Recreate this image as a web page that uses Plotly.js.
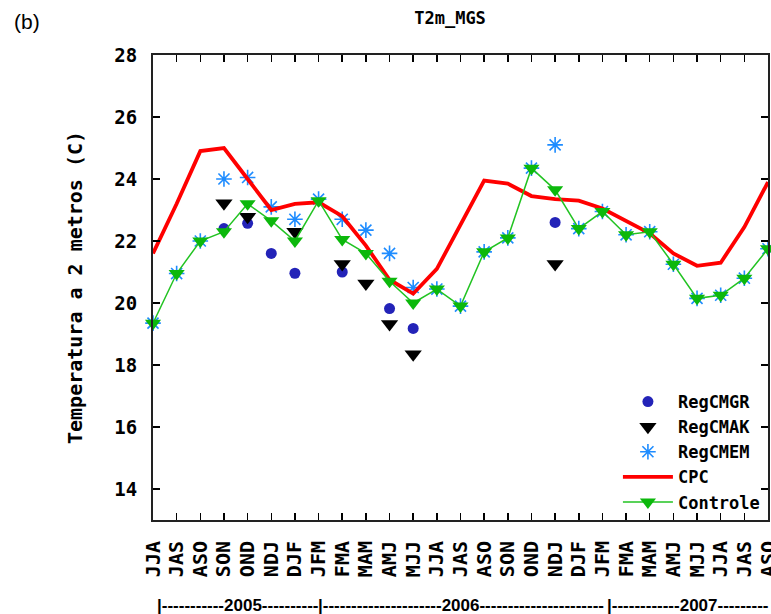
<!DOCTYPE html>
<html>
<head>
<meta charset="utf-8">
<script src="https://cdn.plot.ly/plotly-3.0.1.min.js"></script>
<style>html,body{margin:0;padding:0;background:#fff;}#chart{width:771px;height:614px;}</style>
</head>
<body>
<div id="chart"></div>
<script>
// Season labels (3-month running windows)
const seasons = ["JJA","JAS","ASO","SON","OND","NDJ","DJF","JFM","FMA","MAM","AMJ","MJJ",
                 "JJA","JAS","ASO","SON","OND","NDJ","DJF","JFM","FMA","MAM","AMJ","MJJ",
                 "JJA","JAS","ASO"];
const idx = seasons.map((_, i) => i);

const cpc      = [21.6, 23.2, 24.9, 25.0, 24.0, 23.0, 23.2, 23.25, 22.8, 21.85, 20.75, 20.3, 21.1,
                  22.5, 23.95, 23.85, 23.45, 23.35, 23.3, 23.05, 22.65, 22.25, 21.6, 21.2, 21.3, 22.45, 23.9];
const controle = [19.35, 20.95, 22.0, 22.3, 23.2, 22.65, 22.0, 23.3, 22.05, 21.6, 20.7, 20.0, 20.45,
                  19.9, 21.65, 22.1, 24.35, 23.65, 22.4, 22.95, 22.2, 22.3, 21.25, 20.15, 20.25, 20.8, 21.75];
const regcmem  = [19.35, 20.95, 22.0, 24.0, 24.05, 23.1, 22.7, 23.35, 22.7, 22.35, 21.6, 20.5, 20.45,
                  19.9, 21.65, 22.1, 24.35, 25.1, 22.4, 22.95, 22.2, 22.3, 21.25, 20.15, 20.25, 20.8, 21.75];
const regcmgr  = [null, null, null, 22.4, 22.57, 21.6, 20.96, null, 21.0, null, 19.82, 19.18, null,
                  null, null, null, null, 22.6, null, null, null, null, null, null, null, null, null];
const regcmak  = [null, null, null, 23.22, 22.78, null, 22.3, null, 21.26, 20.63, 19.32, 18.35, null,
                  null, null, null, null, 21.26, null, null, null, null, null, null, null, null, null];
const yTicks = [14, 16, 18, 20, 22, 24, 26, 28];
const yearLabels = ["|-----------2005----------", "|---------------------2006----------------------",
                    "|------------2007---------"];

const mono = "DejaVu Sans Mono, monospace";

const traces = [
  {x: idx, y: regcmgr, name: "RegCMGR", type: "scatter", mode: "markers", cliponaxis: false,
   marker: {symbol: "circle", size: 11, color: "#2323b8"}},
  {x: idx, y: regcmak, name: "RegCMAK", type: "scatter", mode: "markers", cliponaxis: false,
   marker: {symbol: "triangle-down", size: 15, color: "#000000"}},
  {x: idx, y: regcmem, name: "RegCMEM", type: "scatter", mode: "markers", cliponaxis: false,
   marker: {symbol: "asterisk-open", size: 13, color: "#1e8cff", line: {color: "#1e8cff", width: 1.6}}},
  {x: idx, y: cpc, name: "CPC", type: "scatter", mode: "lines", cliponaxis: false,
   line: {color: "#ff0000", width: 3.8}},
  {x: idx, y: controle, name: "Controle", type: "scatter", mode: "lines+markers", cliponaxis: false,
   line: {color: "#22c322", width: 1.5},
   marker: {symbol: "triangle-down", size: 14, color: "#0cb80c"}}
];

const yearFont = {family: "Liberation Sans, Arial, sans-serif", size: 17, color: "#000", weight: "bold"};
const yearX = [0.08, 6.9, 19.1];
const layout = {
  width: 771, height: 614,
  margin: {l: 153, r: 3, t: 55, b: 94},
  paper_bgcolor: "#fff", plot_bgcolor: "#fff",
  showlegend: true,
  title: {text: "T2m_MGS", font: {family: mono, size: 17, color: "#000", weight: "bold"},
          xref: "paper", x: 0.483, xanchor: "center", yref: "container", y: 0.97, yanchor: "middle"},
  xaxis: {
    range: [0, 26], tickmode: "array", tickvals: idx, ticktext: seasons, tickangle: -90,
    ticks: "inside", ticklen: 7, tickwidth: 1.5, tickcolor: "#000",
    showline: true, linewidth: 2, linecolor: "#222", mirror: "ticks",
    showgrid: false, zeroline: false, ticklabelstandoff: 11, ticklabeloverflow: "allow",
    tickfont: {family: mono, size: 20, color: "#000", weight: "bold"}
  },
  yaxis: {
    range: [13, 28], tickmode: "array", tickvals: yTicks, ticktext: yTicks.map(String),
    ticks: "inside", ticklen: 7, tickwidth: 1.5, tickcolor: "#000",
    showline: true, linewidth: 2, linecolor: "#222", mirror: "ticks",
    showgrid: false, zeroline: false, ticklabelstandoff: 10,
    tickfont: {family: mono, size: 19, color: "#000", weight: "bold"},
    title: {text: "Temperatura a 2 metros (C)", standoff: 26,
            font: {family: mono, size: 20, color: "#000", weight: "bold"}}
  },
  legend: {
    x: 0.995, xanchor: "right", y: 0.0, yanchor: "bottom",
    bgcolor: "rgba(0,0,0,0)", borderwidth: 0, traceorder: "normal",
    font: {family: mono, size: 17, color: "#000", weight: "bold"}, itemwidth: 50
  },
  annotations: [
    {text: "(b)", xref: "paper", yref: "paper", x: -0.23, y: 1.072, xanchor: "left", yanchor: "middle",
     showarrow: false, font: {family: "Liberation Sans, Arial, sans-serif", size: 21, color: "#000"}}
  ].concat(yearLabels.map((t, i) => ({
    text: t, xref: "x", yref: "paper", x: yearX[i], y: -0.183, xanchor: "left",
    yanchor: "middle", showarrow: false, font: yearFont
  })))
};

Plotly.newPlot("chart", traces, layout, {displayModeBar: false, staticPlot: true});
</script>
</body>
</html>
